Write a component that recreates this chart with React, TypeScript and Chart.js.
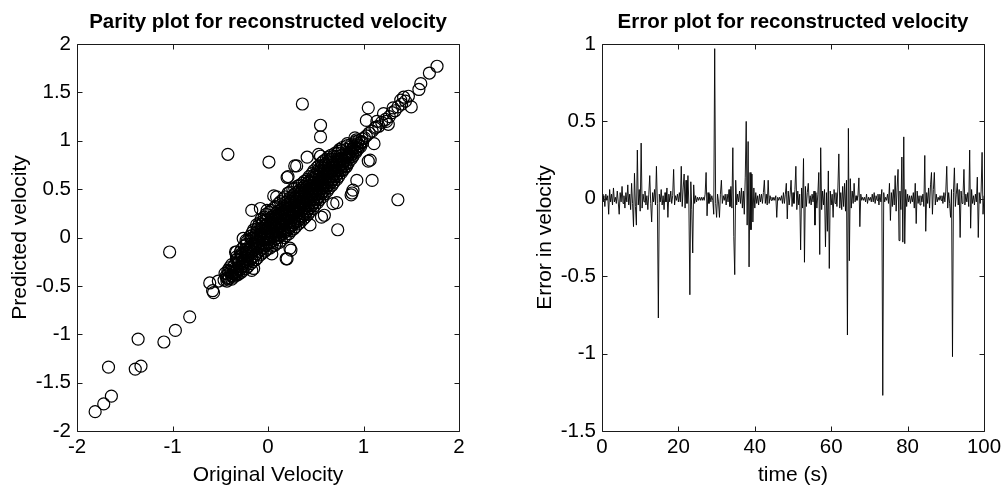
import React, { useEffect, useRef } from 'react';
import { Chart, registerables } from 'chart.js';

Chart.register(...registerables);

const FONT = '"Liberation Sans", Arial, Helvetica, sans-serif';

// ---------- tick labels ----------
const parityXTicks = [-2, -1, 0, 1, 2];
const parityYTicks = [-2, -1.5, -1, -0.5, 0, 0.5, 1, 1.5, 2];
const errorXTicks = [0, 20, 40, 60, 80, 100];
const errorYTicks = [-1.5, -1, -0.5, 0, 0.5, 1];

// ---------- titles ----------
const parityTitle = 'Parity plot for reconstructed velocity';
const parityXLabel = 'Original Velocity';
const parityYLabel = 'Predicted velocity';
const errorTitle = 'Error plot for reconstructed velocity';
const errorXLabel = 'time (s)';
const errorYLabel = 'Error in velocity';

// ---------- error plot data (sampled every 0.25 s, 0..100 s) ----------
const sampleStep = 0.25;
const errorInVelocity = [
  0.03, -0.02, 0.02, -0.05, 0.03, -0.01, 0.02, -0.10, 0.06, -0.02, 0.03, -0.04, 0.07, -0.02, 0.01, -0.03, 0.05, -0.02, -0.10, 0.04,
  -0.02, 0.08, -0.03, 0.02, -0.06, 0.04, -0.02, 0.09, -0.04, 0.03, -0.07, 0.10, -0.03, -0.18, 0.165, -0.05, -0.17, 0.315, -0.04, 0.06,
  -0.08, 0.36, -0.06, 0.03, -0.02, 0.05, -0.04, 0.02, -0.07, 0.03, 0.15, -0.03, -0.15, 0.04, -0.02, 0.06, -0.04, 0.21, -0.03, -0.77,
  0.03, -0.02, 0.06, -0.04, 0.02, -0.07, 0.04, -0.02, 0.07, -0.12, 0.03, -0.02, 0.05, -0.03, 0.02, 0.19, -0.04, 0.02, -0.01, 0.03,
  -0.02, 0.04, -0.02, 0.21, -0.05, 0.07, 0.16, -0.06, 0.12, -0.03, 0.15, -0.04, -0.62, 0.11, -0.07, -0.35, 0.09, -0.03, 0.02, -0.02,
  0.01, -0.01, 0.01, -0.01, 0.01, -0.01, 0.01, -0.01, 0.03, 0.17, -0.11, 0.04, -0.03, 0.03, -0.02, 0.02, -0.01, -0.10, 0.97, -0.03,
  -0.12, 0.03, -0.02, -0.12, 0.03, 0.12, -0.03, 0.02, -0.01, 0.03, -0.04, 0.03, -0.02, 0.06, -0.05, 0.08, -0.06, 0.33, -0.245, -0.49,
  0.12, -0.04, 0.03, -0.02, 0.05, -0.03, 0.07, -0.06, 0.05, -0.10, 0.14, 0.50, -0.17, 0.37, -0.44, 0.17, -0.20, 0.16, -0.15, 0.07,
  -0.06, 0.04, -0.03, 0.02, -0.04, 0.03, -0.02, 0.03, -0.03, 0.04, 0.12, -0.03, 0.03, -0.04, 0.12, -0.03, 0.02, -0.01, 0.01, -0.01,
  0.01, -0.01, 0.02, -0.12, 0.01, -0.01, 0.01, -0.01, 0.02, -0.03, 0.04, -0.03, 0.03, 0.10, -0.13, 0.05, -0.04, 0.03, 0.12, -0.05,
  0.04, -0.03, 0.06, 0.21, -0.07, 0.05, -0.04, 0.03, -0.33, 0.07, -0.06, 0.26, -0.41, 0.08, -0.05, 0.04, 0.10, -0.03, 0.02, -0.04,
  0.03, -0.02, 0.05, -0.17, 0.04, -0.06, 0.03, 0.17, -0.36, 0.33, -0.07, 0.05, -0.04, 0.06, -0.31, 0.04, -0.21, 0.18, -0.45, 0.05,
  -0.04, 0.03, -0.12, 0.06, -0.03, 0.04, -0.05, 0.07, 0.29, -0.06, 0.04, -0.07, 0.08, -0.05, 0.10, -0.08, 0.12, -0.88, 0.455, -0.40,
  0.13, -0.06, 0.05, -0.03, 0.10, -0.02, 0.02, -0.01, 0.02, 0.135, -0.18, 0.03, -0.01, 0.01, -0.01, 0.01, -0.02, 0.03, -0.03, 0.01,
  -0.01, 0.01, -0.02, 0.03, -0.02, 0.04, -0.03, 0.02, -0.01, 0.03, -0.04, 0.03, -0.02, 0.06, -1.27, 0.04, -0.02, 0.01, -0.01, 0.03,
  -0.03, 0.10, -0.14, 0.04, -0.05, 0.06, -0.04, 0.15, -0.08, 0.07, 0.19, -0.27, 0.05, -0.07, 0.27, -0.28, 0.40, -0.29, 0.06, -0.05,
  0.03, -0.02, 0.02, -0.03, 0.02, -0.02, 0.04, -0.06, 0.10, -0.16, 0.05, -0.03, 0.02, -0.04, 0.02, -0.02, 0.03, -0.05, 0.28, -0.21,
  0.04, -0.03, 0.07, -0.06, 0.09, 0.17, -0.10, 0.06, 0.17, -0.04, 0.03, -0.02, 0.01, -0.01, 0.02, -0.01, 0.02, -0.03, 0.04, -0.02,
  0.05, 0.21, -0.06, 0.04, -0.03, -0.12, 0.06, -1.02, 0.04, 0.20, -0.05, 0.03, 0.10, -0.04, 0.06, -0.25, 0.05, -0.03, 0.02, 0.19,
  -0.04, 0.03, -0.02, 0.04, -0.05, 0.315, -0.19, 0.06, -0.03, 0.02, -0.04, 0.03, -0.02, 0.14, -0.25, 0.04, -0.03, 0.05, 0.30, -0.10, 0.02,
];

// ---------- parity plot data: [original, predicted] ----------
const parityCore: [number, number][] = [
  [-0.46, -0.44], [-0.44, -0.40], [-0.45, -0.37], [-0.43, -0.45],
  [-0.41, -0.42], [-0.39, -0.36], [-0.40, -0.31], [-0.38, -0.39], [-0.42, -0.34],
  [-0.36, -0.41], [-0.34, -0.35], [-0.35, -0.28], [-0.33, -0.23], [-0.37, -0.31], [-0.34, -0.38],
  [-0.31, -0.38], [-0.29, -0.33], [-0.30, -0.26], [-0.28, -0.19], [-0.32, -0.22], [-0.30, -0.30], [-0.29, -0.15],
  [-0.26, -0.34], [-0.24, -0.29], [-0.25, -0.22], [-0.23, -0.15], [-0.27, -0.18], [-0.25, -0.09], [-0.24, -0.25],
  [-0.21, -0.30], [-0.19, -0.24], [-0.20, -0.17], [-0.18, -0.10], [-0.22, -0.04], [-0.20, -0.13], [-0.19, 0.01], [-0.21, -0.20],
  [-0.16, -0.25], [-0.14, -0.19], [-0.15, -0.12], [-0.13, -0.05], [-0.17, 0.02], [-0.15, 0.08], [-0.14, -0.09], [-0.16, -0.01],
  [-0.11, -0.21], [-0.09, -0.14], [-0.10, -0.08], [-0.08, -0.01], [-0.12, 0.05], [-0.10, 0.12], [-0.09, 0.15], [-0.11, -0.04], [-0.10, 0.02],
  [-0.06, -0.16], [-0.04, -0.10], [-0.05, -0.03], [-0.03, 0.04], [-0.07, 0.10], [-0.05, 0.17], [-0.04, 0.21], [-0.06, 0.07], [-0.05, -0.07],
  [-0.01, -0.12], [0.01, -0.06], [0.00, 0.01], [0.02, 0.07], [-0.02, 0.13], [0.00, 0.19], [0.01, 0.26], [-0.01, 0.04], [0.00, 0.10], [0.02, -0.02],
  [0.04, -0.09], [0.06, -0.03], [0.05, 0.04], [0.07, 0.10], [0.03, 0.16], [0.05, 0.22], [0.06, 0.30], [0.04, 0.13], [0.05, 0.07], [0.06, 0.01],
  [0.09, -0.06], [0.11, 0.00], [0.10, 0.07], [0.12, 0.14], [0.08, 0.20], [0.10, 0.27], [0.11, 0.35], [0.09, 0.11], [0.10, 0.17], [0.12, 0.03], [0.11, 0.24],
  [0.14, -0.03], [0.16, 0.04], [0.15, 0.10], [0.17, 0.17], [0.13, 0.23], [0.15, 0.30], [0.16, 0.40], [0.14, 0.14], [0.15, 0.20], [0.17, 0.07], [0.16, 0.27],
  [0.19, 0.02], [0.21, 0.08], [0.20, 0.15], [0.22, 0.21], [0.18, 0.27], [0.20, 0.34], [0.21, 0.46], [0.19, 0.18], [0.20, 0.24], [0.22, 0.11], [0.21, 0.38],
  [0.24, 0.07], [0.26, 0.13], [0.25, 0.20], [0.27, 0.26], [0.23, 0.32], [0.25, 0.39], [0.26, 0.50], [0.24, 0.23], [0.25, 0.29], [0.27, 0.16], [0.26, 0.43],
  [0.29, 0.11], [0.31, 0.17], [0.30, 0.24], [0.32, 0.30], [0.28, 0.36], [0.30, 0.43], [0.31, 0.53], [0.29, 0.27], [0.30, 0.33], [0.32, 0.20], [0.31, 0.47],
  [0.34, 0.16], [0.36, 0.22], [0.35, 0.28], [0.37, 0.34], [0.33, 0.40], [0.35, 0.47], [0.36, 0.56], [0.34, 0.31], [0.35, 0.37], [0.37, 0.25], [0.36, 0.51],
  [0.39, 0.21], [0.41, 0.27], [0.40, 0.33], [0.42, 0.39], [0.38, 0.45], [0.40, 0.52], [0.41, 0.60], [0.39, 0.36], [0.40, 0.42], [0.42, 0.30], [0.41, 0.56],
  [0.44, 0.27], [0.46, 0.33], [0.45, 0.39], [0.47, 0.45], [0.43, 0.51], [0.45, 0.57], [0.46, 0.66], [0.44, 0.42], [0.45, 0.48], [0.47, 0.36], [0.46, 0.61],
  [0.49, 0.33], [0.51, 0.39], [0.50, 0.45], [0.52, 0.51], [0.48, 0.57], [0.50, 0.63], [0.51, 0.72], [0.49, 0.48], [0.50, 0.54], [0.52, 0.42], [0.51, 0.67],
  [0.54, 0.39], [0.56, 0.45], [0.55, 0.51], [0.57, 0.57], [0.53, 0.63], [0.55, 0.69], [0.56, 0.77], [0.54, 0.54], [0.55, 0.60], [0.57, 0.48], [0.56, 0.73],
  [0.59, 0.45], [0.61, 0.51], [0.60, 0.57], [0.62, 0.63], [0.58, 0.69], [0.60, 0.75], [0.61, 0.81], [0.59, 0.60], [0.60, 0.66], [0.62, 0.54],
  [0.64, 0.51], [0.66, 0.57], [0.65, 0.63], [0.67, 0.69], [0.63, 0.75], [0.65, 0.81], [0.66, 0.85], [0.64, 0.66], [0.65, 0.72], [0.67, 0.60],
  [0.69, 0.57], [0.71, 0.63], [0.70, 0.69], [0.72, 0.75], [0.68, 0.81], [0.70, 0.87], [0.69, 0.72], [0.71, 0.78], [0.70, 0.66],
  [0.74, 0.63], [0.76, 0.69], [0.75, 0.75], [0.77, 0.81], [0.73, 0.87], [0.75, 0.91], [0.74, 0.78], [0.76, 0.72],
  [0.79, 0.70], [0.81, 0.76], [0.80, 0.82], [0.82, 0.88], [0.78, 0.93], [0.80, 0.79], [0.81, 0.85],
  [0.84, 0.77], [0.86, 0.83], [0.85, 0.88], [0.87, 0.94], [0.83, 0.97], [0.85, 0.86],
  [0.89, 0.84], [0.91, 0.89], [0.90, 0.94], [0.92, 0.99], [0.88, 0.91],
  [0.94, 0.91], [0.96, 0.95], [0.95, 1.00], [0.97, 0.98],
  [0.99, 0.98], [1.01, 1.03], [1.03, 1.05],
  [1.06, 1.08], [1.09, 1.10], [1.12, 1.13], [1.16, 1.15], [1.19, 1.19], [1.23, 1.22], [1.27, 1.25],
  [1.30, 1.29], [1.33, 1.31], [1.36, 1.35], [1.40, 1.38], [1.44, 1.41], [1.47, 1.46],
];

const parityCoreDense: [number, number][] = [
  [-0.43, -0.42], [-0.42, -0.38], [-0.41, -0.35],
  [-0.38, -0.43], [-0.37, -0.37], [-0.36, -0.33], [-0.38, -0.28], [-0.375, -0.40],
  [-0.33, -0.39], [-0.32, -0.32], [-0.31, -0.27], [-0.33, -0.20], [-0.325, -0.35], [-0.31, -0.24],
  [-0.28, -0.36], [-0.27, -0.30], [-0.26, -0.24], [-0.28, -0.17], [-0.275, -0.12], [-0.265, -0.27], [-0.27, -0.21],
  [-0.23, -0.32], [-0.22, -0.26], [-0.21, -0.19], [-0.23, -0.12], [-0.225, -0.07], [-0.215, -0.23], [-0.22, -0.15], [-0.23, -0.03],
  [-0.18, -0.27], [-0.17, -0.21], [-0.16, -0.14], [-0.18, -0.07], [-0.175, -0.01], [-0.165, 0.05], [-0.17, -0.17], [-0.18, -0.10],
  [-0.13, -0.23], [-0.12, -0.17], [-0.11, -0.11], [-0.13, -0.03], [-0.125, 0.03], [-0.115, 0.09], [-0.12, 0.13], [-0.13, -0.07], [-0.12, 0.00],
  [-0.08, -0.18], [-0.07, -0.12], [-0.06, -0.05], [-0.08, 0.01], [-0.075, 0.08], [-0.065, 0.14], [-0.07, 0.19], [-0.08, -0.09], [-0.07, 0.04],
  [-0.03, -0.14], [-0.02, -0.08], [-0.01, -0.01], [-0.03, 0.06], [-0.025, 0.12], [-0.015, 0.18], [-0.02, 0.24], [-0.03, 0.02], [-0.02, 0.09], [-0.01, -0.05],
  [0.02, -0.11], [0.03, -0.05], [0.04, 0.02], [0.02, 0.09], [0.025, 0.15], [0.035, 0.21], [0.03, 0.28], [0.02, 0.12], [0.03, 0.05], [0.04, 0.18],
  [0.07, -0.08], [0.08, -0.01], [0.09, 0.06], [0.07, 0.12], [0.075, 0.19], [0.085, 0.25], [0.08, 0.32], [0.07, 0.15], [0.08, 0.09], [0.09, 0.22], [0.075, 0.03],
  [0.12, -0.05], [0.13, 0.02], [0.14, 0.08], [0.12, 0.16], [0.125, 0.22], [0.135, 0.29], [0.13, 0.37], [0.12, 0.12], [0.13, 0.19], [0.14, 0.26], [0.125, 0.05],
  [0.17, 0.00], [0.18, 0.06], [0.19, 0.13], [0.17, 0.19], [0.175, 0.25], [0.185, 0.32], [0.18, 0.42], [0.17, 0.16], [0.18, 0.22], [0.19, 0.29], [0.175, 0.09], [0.18, 0.36],
  [0.22, 0.04], [0.23, 0.10], [0.24, 0.17], [0.22, 0.24], [0.225, 0.30], [0.235, 0.37], [0.23, 0.47], [0.22, 0.21], [0.23, 0.27], [0.24, 0.34], [0.225, 0.13], [0.23, 0.41],
  [0.27, 0.09], [0.28, 0.15], [0.29, 0.22], [0.27, 0.28], [0.275, 0.34], [0.285, 0.41], [0.28, 0.51], [0.27, 0.25], [0.28, 0.31], [0.29, 0.38], [0.275, 0.18], [0.28, 0.45],
  [0.32, 0.14], [0.33, 0.19], [0.34, 0.26], [0.32, 0.32], [0.325, 0.38], [0.335, 0.45], [0.33, 0.54], [0.32, 0.29], [0.33, 0.35], [0.34, 0.42], [0.325, 0.22], [0.33, 0.49],
  [0.37, 0.19], [0.38, 0.24], [0.39, 0.31], [0.37, 0.37], [0.375, 0.43], [0.385, 0.49], [0.38, 0.58], [0.37, 0.34], [0.38, 0.40], [0.39, 0.46], [0.375, 0.27], [0.38, 0.53],
  [0.42, 0.24], [0.43, 0.30], [0.44, 0.36], [0.42, 0.42], [0.425, 0.48], [0.435, 0.54], [0.43, 0.63], [0.42, 0.39], [0.43, 0.45], [0.44, 0.51], [0.425, 0.33], [0.43, 0.58],
  [0.47, 0.30], [0.48, 0.36], [0.49, 0.42], [0.47, 0.48], [0.475, 0.54], [0.485, 0.60], [0.48, 0.69], [0.47, 0.45], [0.48, 0.51], [0.49, 0.57], [0.475, 0.39], [0.48, 0.64],
  [0.52, 0.36], [0.53, 0.42], [0.54, 0.48], [0.52, 0.54], [0.525, 0.60], [0.535, 0.66], [0.53, 0.74], [0.52, 0.51], [0.53, 0.57], [0.54, 0.63], [0.525, 0.45], [0.53, 0.70],
  [0.57, 0.42], [0.58, 0.48], [0.59, 0.54], [0.57, 0.60], [0.575, 0.66], [0.585, 0.72], [0.58, 0.79], [0.57, 0.57], [0.58, 0.63], [0.59, 0.69], [0.575, 0.51],
  [0.62, 0.48], [0.63, 0.54], [0.64, 0.60], [0.62, 0.66], [0.625, 0.72], [0.635, 0.78], [0.63, 0.83], [0.62, 0.63], [0.63, 0.69], [0.64, 0.75], [0.625, 0.57],
  [0.67, 0.54], [0.68, 0.60], [0.69, 0.66], [0.67, 0.72], [0.675, 0.78], [0.685, 0.84], [0.68, 0.69], [0.67, 0.63], [0.68, 0.75],
  [0.72, 0.60], [0.73, 0.66], [0.74, 0.72], [0.72, 0.78], [0.725, 0.84], [0.735, 0.89], [0.73, 0.69], [0.72, 0.75], [0.73, 0.81],
  [0.77, 0.67], [0.78, 0.73], [0.79, 0.79], [0.77, 0.85], [0.775, 0.90], [0.78, 0.76], [0.77, 0.82],
  [0.82, 0.74], [0.83, 0.80], [0.84, 0.86], [0.82, 0.91], [0.825, 0.83], [0.83, 0.95],
  [0.87, 0.81], [0.88, 0.86], [0.89, 0.92], [0.87, 0.96], [0.875, 0.89],
  [0.92, 0.88], [0.93, 0.93], [0.94, 0.97], [0.925, 1.01],
  [0.97, 0.94], [0.98, 0.99], [0.985, 1.02],
];

const parityOutliers: [number, number][] = [
  [0.36, 1.38], [1.77, 1.77], [1.69, 1.70], [1.60, 1.59], [1.58, 1.53], [1.50, 1.35], [1.42, 1.45], [1.39, 1.42],
  [1.31, 1.34], [1.05, 1.34], [0.55, 1.16], [0.55, 1.04], [-0.42, 0.86], [0.01, 0.78], [1.36, 0.39], [0.73, 0.08],
  [1.09, 0.59], [1.05, 0.79], [1.11, 0.97], [0.91, 1.03], [0.55, 0.84], [0.41, 0.83], [0.28, 0.74], [0.21, 0.63],
  [0.06, 0.43], [-0.17, 0.28], [-0.01, 0.28], [-0.26, -0.01], [0.82, 0.73], [0.89, 0.49], [0.87, 0.44], [0.93, 0.59],
  [0.72, 0.36], [0.56, 0.21], [0.44, 0.13], [1.14, 1.20], [1.26, 1.17], [1.21, 1.28],
  [-1.03, -0.15], [-0.57, -0.57], [-0.82, -0.82], [-0.97, -0.96], [-1.09, -1.08], [-1.36, -1.05], [-1.33, -1.33],
  [-1.39, -1.36], [-1.67, -1.34], [-1.64, -1.64], [-1.72, -1.72], [-1.81, -1.80], [-0.52, -0.45], [-0.61, -0.47],
  [-0.42, -0.43], [-0.15, -0.32], [0.20, -0.22], [0.24, -0.13], [0.04, -0.17], [-0.33, -0.15],
  [0.09, 0.42], [0.20, 0.62], [0.30, 0.74], [0.53, 0.86], [1.07, 0.80], [0.88, 0.46], [0.68, 0.35], [0.59, 0.23],
  [0.23, -0.11], [0.19, -0.22], [-0.17, -0.34], [-0.34, -0.15], [-0.08, 0.30], [-0.58, -0.55], [1.03, 1.21],
  [1.13, 1.14], [1.24, 1.20],
];

// ---------- frame + inward ticks (MATLAB style box) ----------
const frameTicksPlugin = {
  id: 'frameTicks',
  afterDatasetsDraw(chart: any) {
    const { ctx, chartArea } = chart;
    const xs = chart.scales.x;
    const ys = chart.scales.y;
    const a = (v: number) => Math.round(v) + 0.5;
    const L = a(chartArea.left), R = a(chartArea.right), T = a(chartArea.top), B = a(chartArea.bottom);
    const len = 5;
    ctx.save();
    ctx.strokeStyle = '#1a1a1a';
    ctx.lineWidth = 1;
    ctx.beginPath();
    ctx.rect(L, T, R - L, B - T);
    xs.ticks.forEach((t: any) => {
      const p = a(xs.getPixelForValue(t.value));
      ctx.moveTo(p, B); ctx.lineTo(p, B - len);
      ctx.moveTo(p, T); ctx.lineTo(p, T + len);
    });
    ys.ticks.forEach((t: any) => {
      const p = a(ys.getPixelForValue(t.value));
      ctx.moveTo(L, p); ctx.lineTo(L + len, p);
      ctx.moveTo(R, p); ctx.lineTo(R - len, p);
    });
    ctx.stroke();
    ctx.restore();
  },
};

const TICK_FONT = { family: FONT, size: 20.5 };
const LABEL_FONT = { family: FONT, size: 21 };
const TITLE_FONT = { family: FONT, size: 20.5, weight: 'bold' as const };

function axis(
  ticksArr: number[],
  min: number,
  max: number,
  label: string,
  horizontal: boolean,
  size: number,
  titlePad: number,
) {
  return {
    type: 'linear' as const,
    min,
    max,
    position: horizontal ? 'bottom' : 'left',
    grid: { display: false, drawTicks: false },
    border: { display: false },
    afterBuildTicks: (scale: any) => {
      scale.ticks = ticksArr.map((v) => ({ value: v }));
    },
    afterFit: (scale: any) => {
      if (horizontal) scale.height = size;
      else scale.width = size;
    },
    ticks: {
      color: '#000',
      font: TICK_FONT,
      padding: horizontal ? 4 : 6,
      maxRotation: 0,
      autoSkip: false,
      callback: (v: any) => String(Number(v)),
    },
    title: {
      display: true,
      text: label,
      color: '#000',
      font: LABEL_FONT,
      padding: horizontal ? { top: 0, bottom: titlePad } : { top: titlePad, bottom: 0 },
    },
  };
}

function baseOptions(title: string, rightPad: number) {
  return {
    responsive: false,
    animation: false as const,
    devicePixelRatio: 1,
    events: [] as any[],
    layout: { padding: { left: 0, right: rightPad, top: 0, bottom: 0 } },
    plugins: {
      legend: { display: false },
      tooltip: { enabled: false },
      title: {
        display: true,
        text: title,
        color: '#000',
        font: TITLE_FONT,
        fullSize: false,
        padding: { top: 9.7, bottom: 9.7 },
      },
    },
  };
}

export default function App() {
  const leftRef = useRef<HTMLCanvasElement>(null);
  const rightRef = useRef<HTMLCanvasElement>(null);

  useEffect(() => {
    const parityPoints = [...parityCore, ...parityCoreDense, ...parityOutliers].map(([x, y]) => ({ x, y }));
    const left = new Chart(leftRef.current as HTMLCanvasElement, {
      type: 'scatter',
      data: {
        datasets: [
          {
            data: parityPoints,
            pointStyle: 'circle',
            pointRadius: 6,
            borderWidth: 1.2,
            borderColor: '#000',
            backgroundColor: 'rgba(0,0,0,0)',
          },
        ],
      },
      options: {
        ...baseOptions(parityTitle, 44),
        scales: {
          x: axis(parityXTicks, -2, 2, parityXLabel, true, 61, 4.4),
          y: axis(parityYTicks, -2, 2, parityYLabel, false, 77, 7.4),
        },
      } as any,
      plugins: [frameTicksPlugin],
    });

    const errorPoints = errorInVelocity.map((e, i) => ({ x: i * sampleStep, y: e }));
    const right = new Chart(rightRef.current as HTMLCanvasElement, {
      type: 'line',
      data: {
        datasets: [
          {
            data: errorPoints,
            borderColor: '#000',
            borderWidth: 0.9,
            pointRadius: 0,
            tension: 0,
            fill: false,
          },
        ],
      },
      options: {
        ...baseOptions(errorTitle, 22),
        scales: {
          x: axis(errorXTicks, 0, 100, errorXLabel, true, 61, 4.4),
          y: axis(errorYTicks, -1.5, 1, errorYLabel, false, 99, 29.4),
        },
      } as any,
      plugins: [frameTicksPlugin],
    });

    return () => {
      left.destroy();
      right.destroy();
    };
  }, []);

  return (
    <div style={{ position: 'fixed', left: 0, top: 0, width: 1006, height: 492, background: '#fff' }}>
      <canvas
        ref={leftRef}
        width={503}
        height={492}
        style={{ position: 'absolute', left: 0, top: 0, width: 503, height: 492 }}
      />
      <canvas
        ref={rightRef}
        width={503}
        height={492}
        style={{ position: 'absolute', left: 503, top: 0, width: 503, height: 492 }}
      />
    </div>
  );
}
